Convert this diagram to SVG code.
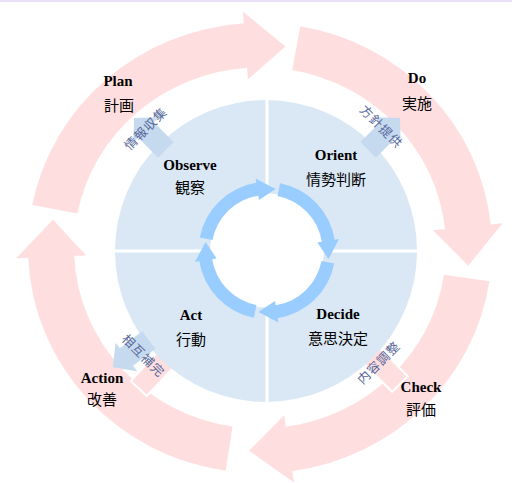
<svg xmlns="http://www.w3.org/2000/svg" width="512" height="483" viewBox="0 0 512 483">
<style>
.pink{fill:#FFDEDF}
.ring{fill:#99CCFF}
.sm{fill:#C6DAEF}
.en{font-family:"Liberation Serif",serif;font-weight:bold;font-size:15px;fill:#000;text-anchor:middle}
.jp{font-family:"Noto Sans CJK JP","Noto Sans CJK SC",sans-serif;font-size:15px;fill:#000;text-anchor:middle}
.lab{font-family:"Noto Sans CJK JP","Noto Sans CJK SC",sans-serif;font-size:12.5px;fill:#56679A;text-anchor:middle;dominant-baseline:central;letter-spacing:1px}
</style>
<defs>
<path id="inarrow" d="M-67.2,-13.1 A68.5,68.5 0 0 1 -10.7,-67.7 L-11.4,-72.1 L8.6,-61.4 L-8.0,-50.4 L-8.7,-54.8 A55.5,55.5 0 0 0 -54.5,-10.6 Z"/>
<path id="smarrow" d="M0,-11 L28,-11 L28,-18 L45,0 L28,18 L28,11 L0,11 Z"/>
</defs>
<rect x="0" y="0" width="512" height="483" fill="#fff"/>
<rect x="0" y="0" width="512" height="2" fill="#E9DFF6"/>
<g id="connectors">
<g id="outer-cycle" transform="translate(260,248) scale(1,0.971)">
<path class="pink" d="M-227.7,-44.3 A232,232 0 0 1 -16.2,-231.4 L-17.0,-243.4 L25.5,-207.4 L-12.1,-173.6 L-13.0,-185.6 A186,186 0 0 0 -182.6,-35.5 Z"/>
<path class="pink" d="M40.3,-228.5 A232,232 0 0 1 230.7,-24.2 L242.7,-25.5 L208.2,18.2 L173.0,-18.2 L185.0,-19.4 A186,186 0 0 0 32.3,-183.2 Z"/>
<path class="pink" d="M229.4,34.3 A232,232 0 0 1 32.3,229.7 L34.0,241.6 L-10.9,208.7 L24.2,172.3 L25.9,184.2 A186,186 0 0 0 184.0,27.5 Z"/>
<path class="pink" d="M-34.3,229.4 A232,232 0 0 1 -231.8,10.1 L-243.8,10.6 L-207.0,-29.1 L-173.8,7.6 L-185.8,8.1 A186,186 0 0 0 -27.5,183.9 Z"/>
</g>
<g transform="translate(267,251)">
<rect class="pink" x="140" y="-11" width="48" height="22" transform="rotate(133)" stroke="#fff" stroke-width="2"/>
<rect class="pink" x="140" y="-11" width="48" height="22" transform="rotate(45)" stroke="#fff" stroke-width="2"/>
</g>
</g>
<g id="ooda-disk">
<circle cx="266" cy="251" r="151" fill="#DAE8F5"/>
<rect x="265.5" y="98" width="3" height="306" fill="#fff"/>
<rect x="113" y="249.5" width="306" height="3" fill="#fff"/>
<circle cx="267" cy="250.5" r="57" fill="#fff"/>
</g>
<g id="links">
<g transform="translate(267,251)">
<use href="#smarrow" class="sm" transform="rotate(225) translate(143,0)"/>
<use href="#smarrow" class="sm" transform="rotate(315) translate(143,0)"/>
<use href="#smarrow" class="sm" transform="rotate(143) translate(148,0)"/>
</g>
<text class="lab" transform="translate(145,128) rotate(-45)">情報収集</text>
<text class="lab" transform="translate(382,126) rotate(45)">方針提供</text>
<text class="lab" transform="translate(144,355) rotate(45)">相互補完</text>
<text class="lab" transform="translate(378,362) rotate(-45)">内容調整</text>
</g>
<g id="inner-cycle" transform="translate(267,250.5)">
<use href="#inarrow" class="ring"/>
<use href="#inarrow" class="ring" transform="rotate(90)"/>
<use href="#inarrow" class="ring" transform="rotate(180)"/>
<use href="#inarrow" class="ring" transform="rotate(270)"/>
</g>
<g id="node-plan"><text class="en" x="118" y="86">Plan</text><text class="jp" x="119" y="111">計画</text></g>
<g id="node-do"><text class="en" x="417" y="83">Do</text><text class="jp" x="417" y="109">実施</text></g>
<g id="node-check"><text class="en" x="421" y="392">Check</text><text class="jp" x="421" y="415">評価</text></g>
<g id="node-action"><text class="en" x="102" y="383">Action</text><text class="jp" x="102" y="405">改善</text></g>
<g id="node-observe"><text class="en" x="190" y="170">Observe</text><text class="jp" x="190" y="193">観察</text></g>
<g id="node-orient"><text class="en" x="336" y="160">Orient</text><text class="jp" x="336" y="185">情勢判断</text></g>
<g id="node-decide"><text class="en" x="338" y="319">Decide</text><text class="jp" x="338" y="344">意思決定</text></g>
<g id="node-act"><text class="en" x="191" y="320">Act</text><text class="jp" x="191" y="345">行動</text></g>
</svg>
